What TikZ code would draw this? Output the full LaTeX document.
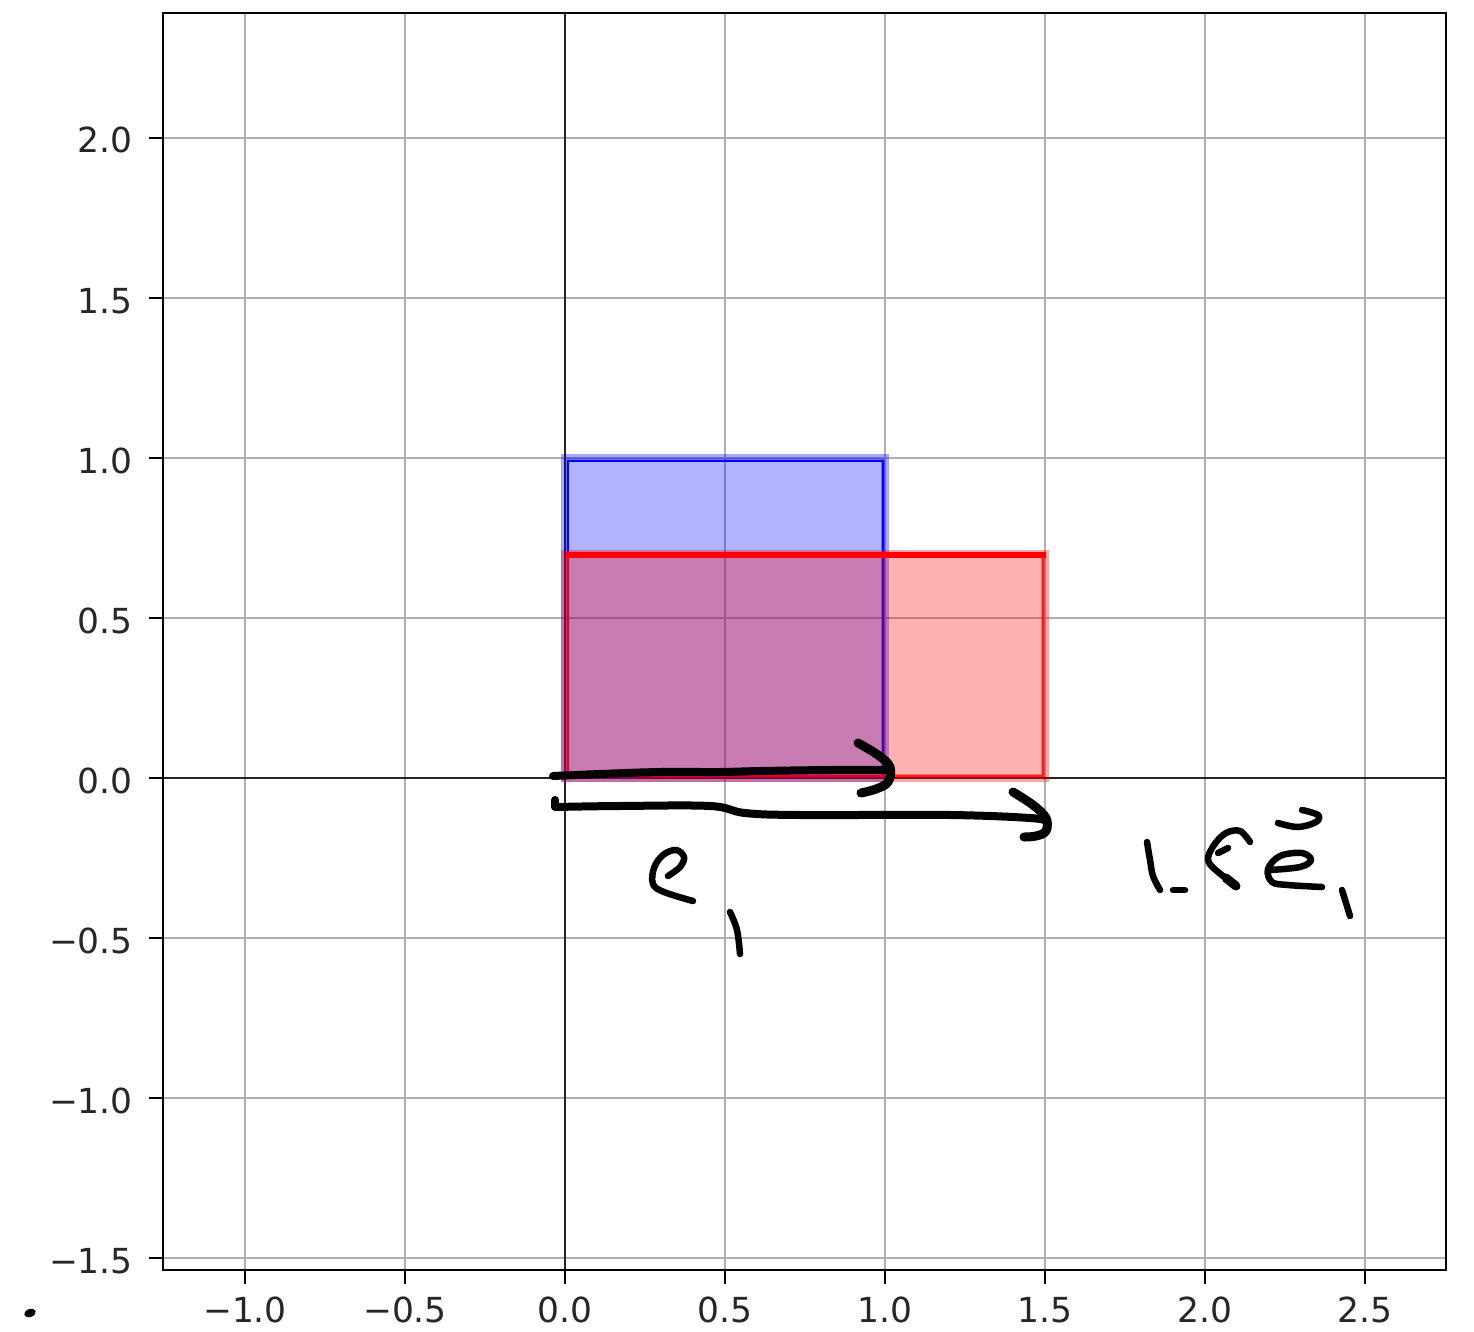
\documentclass[tikz,border=0pt]{standalone}
\usepackage{fontspec}
\setmainfont{DejaVu Sans}
\definecolor{gridc}{RGB}{176,176,176}
\definecolor{tickc}{RGB}{38,38,38}
\begin{document}
\begin{tikzpicture}[x=1pt,y=-1pt,
  gridline/.style={draw=gridc,line width=2.2pt},
  frameline/.style={draw=black,line width=2.5pt},
  zeroline/.style={draw=black!85,line width=1.6pt},
  tickmark/.style={draw=black,line width=2.2pt},
  ticklabel/.style={inner sep=0pt,text=tickc,font=\fontsize{34.5}{40}\selectfont},
  ink/.style={draw=black,line width=8pt,line cap=round,line join=round},
  inkthin/.style={draw=black,line width=6.5pt,line cap=round,line join=round}]
\useasboundingbox[fill=white] (0,0) rectangle (1474,1332);
% grid
\foreach \x in {245,405,565,725,885,1045,1205,1365}
  \draw[gridline] (\x,13) -- (\x,1270);
\foreach \y in {138,298,458,618,778,938,1098,1258}
  \draw[gridline] (163,\y) -- (1446,\y);
% zero lines
\draw[zeroline] (565,13) -- (565,1270);
\draw[zeroline] (163,778) -- (1446,778);
% blue square
\fill[blue,fill opacity=0.3] (565,458) rectangle (885,778);
\draw[blue,draw opacity=0.35,line width=8pt] (565,458) rectangle (885,778);
\draw[blue,line width=2.5pt] (568,461) rectangle (883,776);
% red rectangle
\fill[red,fill opacity=0.3] (565,554) rectangle (1045,778);
\draw[red,draw opacity=0.35,line width=8pt] (565,554) rectangle (1045,778);
\draw[red,draw opacity=0.8,line width=2.5pt] (568,557) rectangle (1043,776);
\draw[red,line width=6pt] (566,555) -- (1046,555);
% frame
\draw[frameline] (163,13) rectangle (1446,1270);
% ticks and labels
\foreach \x/\t [count=\i] in {245/{−1.0},405/{−0.5},565/{0.0},725/{0.5},885/{1.0},1045/{1.5},1205/{2.0},1365/{2.5}} {
  \draw[tickmark] (\x,1270) -- (\x,1284);
  \node[ticklabel,anchor=base] (xl\i) at (\x,1322) {\t};
}
\foreach \y/\t [count=\i] in {138/{2.0},298/{1.5},458/{1.0},618/{0.5},778/{0.0},938/{−0.5},1098/{−1.0},1258/{−1.5}} {
  \draw[tickmark] (149,\y) -- (163,\y);
  \node[ticklabel,anchor=base east] (yl\i) at (133,\y+15) {\t};
}
% handwritten arrow e1
\draw[ink] plot[smooth,tension=0.6] coordinates {(553,776) (600,774) (660,772) (720,772) (760,771) (830,770) (886,770)};
\draw[ink,line width=9pt] plot[smooth,tension=0.6] coordinates {(858,743) (878,755) (890,767) (888,782) (876,789) (861,793)};
% handwritten arrow 1.5 e1
\draw[ink] (555,800) -- (555,806);
\draw[ink] plot[smooth,tension=0.6] coordinates {(555,807) (620,806) (710,806) (745,813) (800,815) (950,815) (1030,818) (1046,821)};
\draw[ink,line width=9pt] plot[smooth,tension=0.6] coordinates {(1013,792) (1033,805) (1046,818) (1046,831) (1036,836) (1024,837)};
% label e_1
\draw[inkthin] plot[smooth,tension=0.6] coordinates {(668,876) (680,867) (684,857) (676,850) (663,855) (654,868) (653,884) (664,892) (693,901)};
\draw[inkthin] plot[smooth,tension=0.6] coordinates {(730,912) (737,930) (740,954)};
% label 1.5 e~_1
\draw[inkthin] plot[smooth,tension=0.6] coordinates {(1147,842) (1150,860) (1153,876) (1160,890)};
\draw[inkthin] (1173,890) -- (1185,890);
\draw[inkthin] plot[smooth,tension=0.6] coordinates {(1250,842) (1240,831) (1226,833) (1214,845) (1208,860) (1218,872) (1236,885)};
\draw[inkthin,line width=9pt] (1226,878) -- (1236,886);
\draw[inkthin] (1228,848) -- (1218,853);
\draw[inkthin] plot[smooth,tension=0.6] coordinates {(1270,870) (1300,867) (1311,860) (1302,853) (1280,856) (1268,869) (1272,882) (1288,885) (1322,887)};
\draw[inkthin] plot[smooth,tension=0.6] coordinates {(1302,810) (1318,815) (1316,822) (1298,827) (1278,823)};
\draw[inkthin] (1342,890) -- (1350,916);
% stray dot
\fill[black,rotate around={20:(30,1313)}] (30,1313) ellipse [x radius=6,y radius=4];
\end{tikzpicture}
\end{document}
